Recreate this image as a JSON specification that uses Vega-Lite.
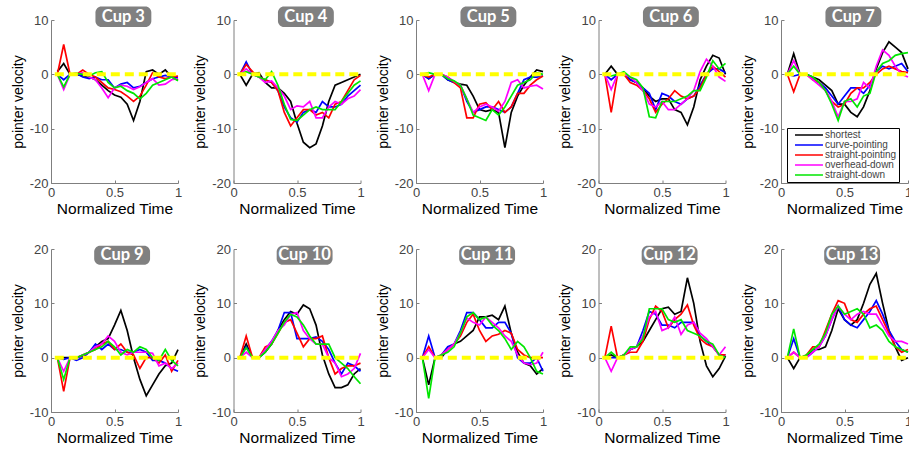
{
"$schema": "https://vega.github.io/schema/vega-lite/v6.json",
"padding": {"left": 11, "top": 6, "right": 0, "bottom": 0},
"background": "white",
"datasets": {"d": [
{"cup":"Cup 3","t":0.05,"shortest":0.5,"curve-pointing":0,"straight-pointing":0,"overhead-down":0,"straight-down":0},
{"cup":"Cup 3","t":0.1,"shortest":2,"curve-pointing":-1,"straight-pointing":5.5,"overhead-down":-2.8,"straight-down":-2.3},
{"cup":"Cup 3","t":0.15,"shortest":0,"curve-pointing":0,"straight-pointing":0,"overhead-down":0,"straight-down":0},
{"cup":"Cup 3","t":0.2,"shortest":0,"curve-pointing":0.2,"straight-pointing":0,"overhead-down":0,"straight-down":0.2},
{"cup":"Cup 3","t":0.25,"shortest":-0.3,"curve-pointing":-0.5,"straight-pointing":0.8,"overhead-down":0.3,"straight-down":0},
{"cup":"Cup 3","t":0.3,"shortest":-0.5,"curve-pointing":-0.8,"straight-pointing":0,"overhead-down":-0.5,"straight-down":-0.3},
{"cup":"Cup 3","t":0.35,"shortest":-1,"curve-pointing":-0.5,"straight-pointing":-0.5,"overhead-down":-1,"straight-down":0.3},
{"cup":"Cup 3","t":0.4,"shortest":-2,"curve-pointing":-1,"straight-pointing":-1.5,"overhead-down":-2.5,"straight-down":0.5},
{"cup":"Cup 3","t":0.45,"shortest":-3,"curve-pointing":-1,"straight-pointing":-2.5,"overhead-down":-4.3,"straight-down":-1.5},
{"cup":"Cup 3","t":0.5,"shortest":-3.8,"curve-pointing":-2.5,"straight-pointing":-2.8,"overhead-down":-2.5,"straight-down":-2.5},
{"cup":"Cup 3","t":0.55,"shortest":-4.2,"curve-pointing":-1.8,"straight-pointing":-3.2,"overhead-down":-2,"straight-down":-2.2},
{"cup":"Cup 3","t":0.6,"shortest":-5.5,"curve-pointing":-1.5,"straight-pointing":-4,"overhead-down":-2.2,"straight-down":-3},
{"cup":"Cup 3","t":0.65,"shortest":-8.5,"curve-pointing":-2.5,"straight-pointing":-5,"overhead-down":-2.8,"straight-down":-3.5},
{"cup":"Cup 3","t":0.7,"shortest":-5,"curve-pointing":-2.2,"straight-pointing":-4,"overhead-down":-2.3,"straight-down":-4.5},
{"cup":"Cup 3","t":0.75,"shortest":0.5,"curve-pointing":-1.5,"straight-pointing":-2,"overhead-down":-1.5,"straight-down":-3.5},
{"cup":"Cup 3","t":0.8,"shortest":0.8,"curve-pointing":-0.8,"straight-pointing":0.3,"overhead-down":-0.8,"straight-down":-2},
{"cup":"Cup 3","t":0.85,"shortest":0,"curve-pointing":-0.5,"straight-pointing":-0.5,"overhead-down":-2,"straight-down":-1.5},
{"cup":"Cup 3","t":0.9,"shortest":0.8,"curve-pointing":-0.2,"straight-pointing":-0.8,"overhead-down":-1.8,"straight-down":-1},
{"cup":"Cup 3","t":0.95,"shortest":-0.5,"curve-pointing":-0.5,"straight-pointing":-0.5,"overhead-down":-1,"straight-down":-0.5},
{"cup":"Cup 3","t":1,"shortest":-1,"curve-pointing":-0.5,"straight-pointing":-0.3,"overhead-down":-0.8,"straight-down":-1.2},
{"cup":"Cup 4","t":0.05,"shortest":0,"curve-pointing":0,"straight-pointing":0,"overhead-down":0,"straight-down":0},
{"cup":"Cup 4","t":0.1,"shortest":-2,"curve-pointing":2.3,"straight-pointing":1.8,"overhead-down":1,"straight-down":0.5},
{"cup":"Cup 4","t":0.15,"shortest":0,"curve-pointing":0,"straight-pointing":0.5,"overhead-down":0,"straight-down":0},
{"cup":"Cup 4","t":0.2,"shortest":0.3,"curve-pointing":-0.5,"straight-pointing":-0.5,"overhead-down":-0.5,"straight-down":-0.5},
{"cup":"Cup 4","t":0.25,"shortest":-1.5,"curve-pointing":-1,"straight-pointing":-1,"overhead-down":-1.5,"straight-down":-1},
{"cup":"Cup 4","t":0.3,"shortest":-2.5,"curve-pointing":-1.5,"straight-pointing":-1.5,"overhead-down":-1.2,"straight-down":0.5},
{"cup":"Cup 4","t":0.35,"shortest":-2.5,"curve-pointing":-3,"straight-pointing":-3,"overhead-down":-2.5,"straight-down":-2},
{"cup":"Cup 4","t":0.4,"shortest":-3.5,"curve-pointing":-6,"straight-pointing":-7,"overhead-down":-4,"straight-down":-5.5},
{"cup":"Cup 4","t":0.45,"shortest":-5,"curve-pointing":-8,"straight-pointing":-9.5,"overhead-down":-6.5,"straight-down":-8.3},
{"cup":"Cup 4","t":0.5,"shortest":-9,"curve-pointing":-8.8,"straight-pointing":-8,"overhead-down":-5.8,"straight-down":-8.5},
{"cup":"Cup 4","t":0.55,"shortest":-12.5,"curve-pointing":-7,"straight-pointing":-6.5,"overhead-down":-6,"straight-down":-7.5},
{"cup":"Cup 4","t":0.6,"shortest":-13.5,"curve-pointing":-6.5,"straight-pointing":-6.5,"overhead-down":-5,"straight-down":-6.5},
{"cup":"Cup 4","t":0.65,"shortest":-12.8,"curve-pointing":-7,"straight-pointing":-7.5,"overhead-down":-8,"straight-down":-6},
{"cup":"Cup 4","t":0.7,"shortest":-9.5,"curve-pointing":-5,"straight-pointing":-7,"overhead-down":-8,"straight-down":-6.5},
{"cup":"Cup 4","t":0.75,"shortest":-5,"curve-pointing":-6,"straight-pointing":-8,"overhead-down":-6,"straight-down":-6.5},
{"cup":"Cup 4","t":0.8,"shortest":-2,"curve-pointing":-6,"straight-pointing":-5.5,"overhead-down":-5,"straight-down":-6.5},
{"cup":"Cup 4","t":0.85,"shortest":-1.5,"curve-pointing":-5.5,"straight-pointing":-5,"overhead-down":-5.5,"straight-down":-5},
{"cup":"Cup 4","t":0.9,"shortest":-1,"curve-pointing":-4,"straight-pointing":-3,"overhead-down":-4.5,"straight-down":-3.5},
{"cup":"Cup 4","t":0.95,"shortest":-0.5,"curve-pointing":-3,"straight-pointing":-1,"overhead-down":-4,"straight-down":-2},
{"cup":"Cup 4","t":1,"shortest":0,"curve-pointing":-2,"straight-pointing":-0.2,"overhead-down":-2.8,"straight-down":-1.2},
{"cup":"Cup 5","t":0.05,"shortest":0,"curve-pointing":0,"straight-pointing":0,"overhead-down":0,"straight-down":0},
{"cup":"Cup 5","t":0.1,"shortest":-0.8,"curve-pointing":-0.8,"straight-pointing":-0.5,"overhead-down":-3,"straight-down":0.3},
{"cup":"Cup 5","t":0.15,"shortest":0,"curve-pointing":0,"straight-pointing":0,"overhead-down":0,"straight-down":0},
{"cup":"Cup 5","t":0.2,"shortest":0,"curve-pointing":0,"straight-pointing":0,"overhead-down":0,"straight-down":0},
{"cup":"Cup 5","t":0.25,"shortest":-1,"curve-pointing":-1,"straight-pointing":-0.5,"overhead-down":-0.5,"straight-down":-0.8},
{"cup":"Cup 5","t":0.3,"shortest":-1.5,"curve-pointing":-1.5,"straight-pointing":-1.5,"overhead-down":-1.3,"straight-down":-1.2},
{"cup":"Cup 5","t":0.35,"shortest":-1.8,"curve-pointing":-2,"straight-pointing":-2.5,"overhead-down":-2,"straight-down":-2},
{"cup":"Cup 5","t":0.4,"shortest":-2,"curve-pointing":-5,"straight-pointing":-8,"overhead-down":-4.5,"straight-down":-4.5},
{"cup":"Cup 5","t":0.45,"shortest":-4,"curve-pointing":-7,"straight-pointing":-8,"overhead-down":-7,"straight-down":-7.5},
{"cup":"Cup 5","t":0.5,"shortest":-6.5,"curve-pointing":-6.5,"straight-pointing":-5.5,"overhead-down":-6,"straight-down":-8},
{"cup":"Cup 5","t":0.55,"shortest":-6.8,"curve-pointing":-6,"straight-pointing":-5.2,"overhead-down":-5.5,"straight-down":-8.5},
{"cup":"Cup 5","t":0.6,"shortest":-6.5,"curve-pointing":-6,"straight-pointing":-6.5,"overhead-down":-6,"straight-down":-6.5},
{"cup":"Cup 5","t":0.65,"shortest":-7,"curve-pointing":-6.5,"straight-pointing":-5,"overhead-down":-6.8,"straight-down":-7.5},
{"cup":"Cup 5","t":0.7,"shortest":-13.5,"curve-pointing":-7,"straight-pointing":-7,"overhead-down":-5,"straight-down":-6},
{"cup":"Cup 5","t":0.75,"shortest":-7,"curve-pointing":-6,"straight-pointing":-6,"overhead-down":-1.5,"straight-down":-4},
{"cup":"Cup 5","t":0.8,"shortest":-4,"curve-pointing":-3.5,"straight-pointing":-3.5,"overhead-down":-1,"straight-down":-2},
{"cup":"Cup 5","t":0.85,"shortest":-2,"curve-pointing":-1,"straight-pointing":-3.5,"overhead-down":-2.5,"straight-down":-1.5},
{"cup":"Cup 5","t":0.9,"shortest":-0.5,"curve-pointing":-0.5,"straight-pointing":-2,"overhead-down":-2.2,"straight-down":-1},
{"cup":"Cup 5","t":0.95,"shortest":0.8,"curve-pointing":-0.5,"straight-pointing":-1,"overhead-down":-2,"straight-down":0.3},
{"cup":"Cup 5","t":1,"shortest":0.5,"curve-pointing":-0.3,"straight-pointing":-0.3,"overhead-down":-2.7,"straight-down":0},
{"cup":"Cup 6","t":0.05,"shortest":0,"curve-pointing":0,"straight-pointing":0,"overhead-down":0,"straight-down":0},
{"cup":"Cup 6","t":0.1,"shortest":1.5,"curve-pointing":-1,"straight-pointing":-7,"overhead-down":-2.8,"straight-down":-0.3},
{"cup":"Cup 6","t":0.15,"shortest":0,"curve-pointing":0,"straight-pointing":0,"overhead-down":0,"straight-down":0},
{"cup":"Cup 6","t":0.2,"shortest":0,"curve-pointing":0,"straight-pointing":0,"overhead-down":0,"straight-down":0.5},
{"cup":"Cup 6","t":0.25,"shortest":-1,"curve-pointing":-1,"straight-pointing":-1.5,"overhead-down":-0.5,"straight-down":-0.5},
{"cup":"Cup 6","t":0.3,"shortest":-1.5,"curve-pointing":-1.5,"straight-pointing":-2,"overhead-down":-1.5,"straight-down":-1},
{"cup":"Cup 6","t":0.35,"shortest":-2.5,"curve-pointing":-2.5,"straight-pointing":-3,"overhead-down":-3,"straight-down":-2.5},
{"cup":"Cup 6","t":0.4,"shortest":-4,"curve-pointing":-3.5,"straight-pointing":-4.5,"overhead-down":-5.5,"straight-down":-7.8},
{"cup":"Cup 6","t":0.45,"shortest":-5,"curve-pointing":-6.5,"straight-pointing":-7,"overhead-down":-6,"straight-down":-8},
{"cup":"Cup 6","t":0.5,"shortest":-4.5,"curve-pointing":-3.5,"straight-pointing":-5.5,"overhead-down":-5,"straight-down":-5},
{"cup":"Cup 6","t":0.55,"shortest":-4.5,"curve-pointing":-4,"straight-pointing":-4.5,"overhead-down":-6.5,"straight-down":-5},
{"cup":"Cup 6","t":0.6,"shortest":-6.5,"curve-pointing":-5,"straight-pointing":-3,"overhead-down":-6.5,"straight-down":-5},
{"cup":"Cup 6","t":0.65,"shortest":-7,"curve-pointing":-5.5,"straight-pointing":-4,"overhead-down":-5.5,"straight-down":-4.5},
{"cup":"Cup 6","t":0.7,"shortest":-9.3,"curve-pointing":-4.5,"straight-pointing":-4.5,"overhead-down":-4.5,"straight-down":-4},
{"cup":"Cup 6","t":0.75,"shortest":-6,"curve-pointing":-4,"straight-pointing":-4,"overhead-down":-3,"straight-down":-3},
{"cup":"Cup 6","t":0.8,"shortest":-1,"curve-pointing":-2,"straight-pointing":-2.5,"overhead-down":0.5,"straight-down":-3},
{"cup":"Cup 6","t":0.85,"shortest":1.5,"curve-pointing":0,"straight-pointing":0,"overhead-down":2.8,"straight-down":-0.5},
{"cup":"Cup 6","t":0.9,"shortest":3.5,"curve-pointing":1,"straight-pointing":1.5,"overhead-down":1.5,"straight-down":2.5},
{"cup":"Cup 6","t":0.95,"shortest":3,"curve-pointing":1,"straight-pointing":0.5,"overhead-down":-0.5,"straight-down":1},
{"cup":"Cup 6","t":1,"shortest":0,"curve-pointing":0.3,"straight-pointing":-0.5,"overhead-down":-1.3,"straight-down":2},
{"cup":"Cup 7","t":0.05,"shortest":0,"curve-pointing":0,"straight-pointing":0,"overhead-down":0,"straight-down":0},
{"cup":"Cup 7","t":0.1,"shortest":3.8,"curve-pointing":-0.3,"straight-pointing":-3.2,"overhead-down":2.5,"straight-down":1.5},
{"cup":"Cup 7","t":0.15,"shortest":0,"curve-pointing":0,"straight-pointing":0,"overhead-down":0,"straight-down":0},
{"cup":"Cup 7","t":0.2,"shortest":0,"curve-pointing":0,"straight-pointing":0,"overhead-down":0,"straight-down":0},
{"cup":"Cup 7","t":0.25,"shortest":-0.5,"curve-pointing":-0.8,"straight-pointing":-1,"overhead-down":-1,"straight-down":-0.5},
{"cup":"Cup 7","t":0.3,"shortest":-1,"curve-pointing":-1.5,"straight-pointing":-1.5,"overhead-down":-2,"straight-down":-1.5},
{"cup":"Cup 7","t":0.35,"shortest":-2,"curve-pointing":-2.5,"straight-pointing":-3,"overhead-down":-3,"straight-down":-3},
{"cup":"Cup 7","t":0.4,"shortest":-3,"curve-pointing":-4,"straight-pointing":-5,"overhead-down":-5,"straight-down":-5.5},
{"cup":"Cup 7","t":0.45,"shortest":-5.5,"curve-pointing":-5.5,"straight-pointing":-6,"overhead-down":-7.8,"straight-down":-8.5},
{"cup":"Cup 7","t":0.5,"shortest":-5.5,"curve-pointing":-4,"straight-pointing":-5.5,"overhead-down":-5,"straight-down":-5},
{"cup":"Cup 7","t":0.55,"shortest":-7,"curve-pointing":-2.5,"straight-pointing":-3.5,"overhead-down":-5,"straight-down":-4.5},
{"cup":"Cup 7","t":0.6,"shortest":-7.8,"curve-pointing":-2.5,"straight-pointing":-2.5,"overhead-down":-4.5,"straight-down":-6},
{"cup":"Cup 7","t":0.65,"shortest":-6,"curve-pointing":-3.5,"straight-pointing":-2.5,"overhead-down":-1.5,"straight-down":-4},
{"cup":"Cup 7","t":0.7,"shortest":-3,"curve-pointing":-2,"straight-pointing":-1.5,"overhead-down":-2.5,"straight-down":-3.5},
{"cup":"Cup 7","t":0.75,"shortest":1,"curve-pointing":0.5,"straight-pointing":0,"overhead-down":1.5,"straight-down":0.5},
{"cup":"Cup 7","t":0.8,"shortest":4,"curve-pointing":1.5,"straight-pointing":1,"overhead-down":4.5,"straight-down":2},
{"cup":"Cup 7","t":0.85,"shortest":6,"curve-pointing":1,"straight-pointing":1.5,"overhead-down":3.5,"straight-down":2.5},
{"cup":"Cup 7","t":0.9,"shortest":5,"curve-pointing":1.5,"straight-pointing":1,"overhead-down":1.5,"straight-down":3.5},
{"cup":"Cup 7","t":0.95,"shortest":4,"curve-pointing":2,"straight-pointing":0.5,"overhead-down":0,"straight-down":3.8},
{"cup":"Cup 7","t":1,"shortest":1,"curve-pointing":0.5,"straight-pointing":0.3,"overhead-down":-0.5,"straight-down":4},
{"cup":"Cup 9","t":0.05,"shortest":0,"curve-pointing":0,"straight-pointing":0,"overhead-down":0,"straight-down":0},
{"cup":"Cup 9","t":0.1,"shortest":0,"curve-pointing":-0.3,"straight-pointing":-6.2,"overhead-down":-2.5,"straight-down":-4},
{"cup":"Cup 9","t":0.15,"shortest":0,"curve-pointing":0,"straight-pointing":0,"overhead-down":0,"straight-down":0},
{"cup":"Cup 9","t":0.2,"shortest":0,"curve-pointing":-0.5,"straight-pointing":0,"overhead-down":0,"straight-down":0},
{"cup":"Cup 9","t":0.25,"shortest":0.3,"curve-pointing":0,"straight-pointing":0.5,"overhead-down":0.5,"straight-down":0.5},
{"cup":"Cup 9","t":0.3,"shortest":1,"curve-pointing":1,"straight-pointing":1,"overhead-down":1,"straight-down":1},
{"cup":"Cup 9","t":0.35,"shortest":2,"curve-pointing":2.5,"straight-pointing":1.5,"overhead-down":2,"straight-down":1.5},
{"cup":"Cup 9","t":0.4,"shortest":3,"curve-pointing":1.5,"straight-pointing":2.5,"overhead-down":2.5,"straight-down":2},
{"cup":"Cup 9","t":0.45,"shortest":3.5,"curve-pointing":2.5,"straight-pointing":3,"overhead-down":4,"straight-down":3},
{"cup":"Cup 9","t":0.5,"shortest":6,"curve-pointing":1.5,"straight-pointing":1.5,"overhead-down":3,"straight-down":2},
{"cup":"Cup 9","t":0.55,"shortest":8.7,"curve-pointing":1.5,"straight-pointing":2.5,"overhead-down":1,"straight-down":0.5},
{"cup":"Cup 9","t":0.6,"shortest":5,"curve-pointing":1,"straight-pointing":1,"overhead-down":0.5,"straight-down":1.5},
{"cup":"Cup 9","t":0.65,"shortest":0,"curve-pointing":1,"straight-pointing":0.5,"overhead-down":1,"straight-down":1},
{"cup":"Cup 9","t":0.7,"shortest":-4,"curve-pointing":1.5,"straight-pointing":-2,"overhead-down":1,"straight-down":2},
{"cup":"Cup 9","t":0.75,"shortest":-7,"curve-pointing":1,"straight-pointing":0,"overhead-down":1,"straight-down":1.5},
{"cup":"Cup 9","t":0.8,"shortest":-5,"curve-pointing":-0.5,"straight-pointing":0,"overhead-down":0.8,"straight-down":0},
{"cup":"Cup 9","t":0.85,"shortest":-3,"curve-pointing":-0.5,"straight-pointing":-1,"overhead-down":-1.5,"straight-down":-0.5},
{"cup":"Cup 9","t":0.9,"shortest":-1.5,"curve-pointing":-1,"straight-pointing":0.5,"overhead-down":-1,"straight-down":1.5},
{"cup":"Cup 9","t":0.95,"shortest":-1,"curve-pointing":-2,"straight-pointing":-2.5,"overhead-down":-2,"straight-down":-0.5},
{"cup":"Cup 9","t":1,"shortest":1.5,"curve-pointing":-2.5,"straight-pointing":-0.5,"overhead-down":-1,"straight-down":-1.5},
{"cup":"Cup 10","t":0.05,"shortest":0,"curve-pointing":0,"straight-pointing":0,"overhead-down":0,"straight-down":0},
{"cup":"Cup 10","t":0.1,"shortest":2.5,"curve-pointing":2,"straight-pointing":4,"overhead-down":1,"straight-down":1.8},
{"cup":"Cup 10","t":0.15,"shortest":0,"curve-pointing":0,"straight-pointing":0,"overhead-down":0,"straight-down":0},
{"cup":"Cup 10","t":0.2,"shortest":0,"curve-pointing":0,"straight-pointing":0,"overhead-down":0,"straight-down":0},
{"cup":"Cup 10","t":0.25,"shortest":1,"curve-pointing":1.5,"straight-pointing":2,"overhead-down":1.5,"straight-down":1},
{"cup":"Cup 10","t":0.3,"shortest":2.5,"curve-pointing":3,"straight-pointing":2.5,"overhead-down":3,"straight-down":2.5},
{"cup":"Cup 10","t":0.35,"shortest":5,"curve-pointing":5,"straight-pointing":4.5,"overhead-down":5,"straight-down":4.5},
{"cup":"Cup 10","t":0.4,"shortest":7,"curve-pointing":8.3,"straight-pointing":6.5,"overhead-down":6,"straight-down":6.5},
{"cup":"Cup 10","t":0.45,"shortest":8.5,"curve-pointing":8.3,"straight-pointing":7,"overhead-down":8,"straight-down":8},
{"cup":"Cup 10","t":0.5,"shortest":8,"curve-pointing":3.5,"straight-pointing":4.5,"overhead-down":8.3,"straight-down":7.5},
{"cup":"Cup 10","t":0.55,"shortest":9.7,"curve-pointing":3.5,"straight-pointing":2,"overhead-down":5,"straight-down":6},
{"cup":"Cup 10","t":0.6,"shortest":9,"curve-pointing":3.5,"straight-pointing":3.5,"overhead-down":3.5,"straight-down":4},
{"cup":"Cup 10","t":0.65,"shortest":6,"curve-pointing":3.8,"straight-pointing":3.5,"overhead-down":2.5,"straight-down":2.5},
{"cup":"Cup 10","t":0.7,"shortest":0.5,"curve-pointing":3,"straight-pointing":4,"overhead-down":2.5,"straight-down":2.5},
{"cup":"Cup 10","t":0.75,"shortest":-3,"curve-pointing":1.5,"straight-pointing":0,"overhead-down":0,"straight-down":2.5},
{"cup":"Cup 10","t":0.8,"shortest":-5.5,"curve-pointing":-1,"straight-pointing":-3,"overhead-down":-1,"straight-down":0},
{"cup":"Cup 10","t":0.85,"shortest":-5.5,"curve-pointing":-3,"straight-pointing":-2,"overhead-down":-3.5,"straight-down":-1},
{"cup":"Cup 10","t":0.9,"shortest":-5,"curve-pointing":-1,"straight-pointing":-1.5,"overhead-down":-3,"straight-down":-2},
{"cup":"Cup 10","t":0.95,"shortest":-3,"curve-pointing":-1.5,"straight-pointing":-1.5,"overhead-down":-2,"straight-down":-3.5},
{"cup":"Cup 10","t":1,"shortest":-2,"curve-pointing":-2.5,"straight-pointing":-1,"overhead-down":0.8,"straight-down":-4.8},
{"cup":"Cup 11","t":0.05,"shortest":0,"curve-pointing":0,"straight-pointing":0,"overhead-down":0,"straight-down":0},
{"cup":"Cup 11","t":0.1,"shortest":-5,"curve-pointing":4,"straight-pointing":2,"overhead-down":1.5,"straight-down":-7.5},
{"cup":"Cup 11","t":0.15,"shortest":0,"curve-pointing":0,"straight-pointing":0,"overhead-down":0,"straight-down":0},
{"cup":"Cup 11","t":0.2,"shortest":0,"curve-pointing":0.5,"straight-pointing":0.5,"overhead-down":0.5,"straight-down":0.5},
{"cup":"Cup 11","t":0.25,"shortest":1.5,"curve-pointing":2,"straight-pointing":1.5,"overhead-down":1.5,"straight-down":1},
{"cup":"Cup 11","t":0.3,"shortest":2.5,"curve-pointing":2.5,"straight-pointing":2.5,"overhead-down":2.5,"straight-down":2},
{"cup":"Cup 11","t":0.35,"shortest":3,"curve-pointing":5,"straight-pointing":4,"overhead-down":4.5,"straight-down":4.5},
{"cup":"Cup 11","t":0.4,"shortest":4,"curve-pointing":8.3,"straight-pointing":6.5,"overhead-down":7.3,"straight-down":7.5},
{"cup":"Cup 11","t":0.45,"shortest":5,"curve-pointing":8.3,"straight-pointing":8,"overhead-down":6.5,"straight-down":8.3},
{"cup":"Cup 11","t":0.5,"shortest":7.5,"curve-pointing":7,"straight-pointing":5,"overhead-down":6,"straight-down":7},
{"cup":"Cup 11","t":0.55,"shortest":7.5,"curve-pointing":5.5,"straight-pointing":3,"overhead-down":7.5,"straight-down":7.5},
{"cup":"Cup 11","t":0.6,"shortest":7.8,"curve-pointing":5.5,"straight-pointing":4,"overhead-down":6.5,"straight-down":6},
{"cup":"Cup 11","t":0.65,"shortest":7,"curve-pointing":6.5,"straight-pointing":4.3,"overhead-down":5.5,"straight-down":5},
{"cup":"Cup 11","t":0.7,"shortest":9.5,"curve-pointing":6.5,"straight-pointing":5,"overhead-down":4,"straight-down":3.5},
{"cup":"Cup 11","t":0.75,"shortest":4.5,"curve-pointing":4.5,"straight-pointing":4.5,"overhead-down":3,"straight-down":1.5},
{"cup":"Cup 11","t":0.8,"shortest":1,"curve-pointing":0,"straight-pointing":1.5,"overhead-down":0.5,"straight-down":3},
{"cup":"Cup 11","t":0.85,"shortest":-1,"curve-pointing":-1,"straight-pointing":0.5,"overhead-down":-1,"straight-down":2},
{"cup":"Cup 11","t":0.9,"shortest":-1.5,"curve-pointing":-1,"straight-pointing":0,"overhead-down":-1.3,"straight-down":0},
{"cup":"Cup 11","t":0.95,"shortest":-3,"curve-pointing":0,"straight-pointing":0,"overhead-down":-1,"straight-down":-2.5},
{"cup":"Cup 11","t":1,"shortest":-2,"curve-pointing":-2.5,"straight-pointing":0,"overhead-down":1,"straight-down":-3},
{"cup":"Cup 12","t":0.05,"shortest":0,"curve-pointing":0,"straight-pointing":0,"overhead-down":0,"straight-down":0},
{"cup":"Cup 12","t":0.1,"shortest":0.5,"curve-pointing":0,"straight-pointing":5.8,"overhead-down":-2.5,"straight-down":1},
{"cup":"Cup 12","t":0.15,"shortest":0,"curve-pointing":0,"straight-pointing":0,"overhead-down":0,"straight-down":0},
{"cup":"Cup 12","t":0.2,"shortest":0.5,"curve-pointing":0.5,"straight-pointing":0.5,"overhead-down":0.5,"straight-down":0.5},
{"cup":"Cup 12","t":0.25,"shortest":1.5,"curve-pointing":1.5,"straight-pointing":1,"overhead-down":1.5,"straight-down":2},
{"cup":"Cup 12","t":0.3,"shortest":2,"curve-pointing":2,"straight-pointing":1,"overhead-down":2,"straight-down":2},
{"cup":"Cup 12","t":0.35,"shortest":3,"curve-pointing":5,"straight-pointing":3,"overhead-down":4,"straight-down":3.5},
{"cup":"Cup 12","t":0.4,"shortest":5,"curve-pointing":8.5,"straight-pointing":7,"overhead-down":7.5,"straight-down":9},
{"cup":"Cup 12","t":0.45,"shortest":7,"curve-pointing":8,"straight-pointing":9.5,"overhead-down":8.5,"straight-down":9},
{"cup":"Cup 12","t":0.5,"shortest":9,"curve-pointing":6,"straight-pointing":8.5,"overhead-down":5,"straight-down":9},
{"cup":"Cup 12","t":0.55,"shortest":9.3,"curve-pointing":6,"straight-pointing":5.5,"overhead-down":5.5,"straight-down":7},
{"cup":"Cup 12","t":0.6,"shortest":8,"curve-pointing":5.5,"straight-pointing":7,"overhead-down":7.5,"straight-down":6.5},
{"cup":"Cup 12","t":0.65,"shortest":8.5,"curve-pointing":6.5,"straight-pointing":8,"overhead-down":4.3,"straight-down":7},
{"cup":"Cup 12","t":0.7,"shortest":14.7,"curve-pointing":6.5,"straight-pointing":9.7,"overhead-down":6,"straight-down":5},
{"cup":"Cup 12","t":0.75,"shortest":10,"curve-pointing":6.5,"straight-pointing":6,"overhead-down":6.5,"straight-down":4.5},
{"cup":"Cup 12","t":0.8,"shortest":3,"curve-pointing":4,"straight-pointing":3.5,"overhead-down":4.5,"straight-down":4},
{"cup":"Cup 12","t":0.85,"shortest":-1.5,"curve-pointing":3,"straight-pointing":2.5,"overhead-down":3.5,"straight-down":3},
{"cup":"Cup 12","t":0.9,"shortest":-3.5,"curve-pointing":2,"straight-pointing":2,"overhead-down":2,"straight-down":2.5},
{"cup":"Cup 12","t":0.95,"shortest":-2,"curve-pointing":0.5,"straight-pointing":0.5,"overhead-down":0.5,"straight-down":0.5},
{"cup":"Cup 12","t":1,"shortest":0.3,"curve-pointing":0.5,"straight-pointing":0.5,"overhead-down":2,"straight-down":0},
{"cup":"Cup 13","t":0.05,"shortest":0,"curve-pointing":0,"straight-pointing":0,"overhead-down":0,"straight-down":0},
{"cup":"Cup 13","t":0.1,"shortest":-2,"curve-pointing":3.5,"straight-pointing":1,"overhead-down":1,"straight-down":5.3},
{"cup":"Cup 13","t":0.15,"shortest":0,"curve-pointing":0,"straight-pointing":0,"overhead-down":0,"straight-down":0},
{"cup":"Cup 13","t":0.2,"shortest":0,"curve-pointing":0,"straight-pointing":0.5,"overhead-down":0,"straight-down":0.5},
{"cup":"Cup 13","t":0.25,"shortest":1.5,"curve-pointing":1,"straight-pointing":2,"overhead-down":1,"straight-down":1.5},
{"cup":"Cup 13","t":0.3,"shortest":1.5,"curve-pointing":2,"straight-pointing":2,"overhead-down":2,"straight-down":2.5},
{"cup":"Cup 13","t":0.35,"shortest":2,"curve-pointing":4,"straight-pointing":5,"overhead-down":4,"straight-down":4.5},
{"cup":"Cup 13","t":0.4,"shortest":5,"curve-pointing":7,"straight-pointing":8,"overhead-down":7,"straight-down":8},
{"cup":"Cup 13","t":0.45,"shortest":9,"curve-pointing":9.5,"straight-pointing":10.5,"overhead-down":9.5,"straight-down":9.5},
{"cup":"Cup 13","t":0.5,"shortest":7,"curve-pointing":7,"straight-pointing":10,"overhead-down":8,"straight-down":8},
{"cup":"Cup 13","t":0.55,"shortest":6,"curve-pointing":6,"straight-pointing":7,"overhead-down":7,"straight-down":8.5},
{"cup":"Cup 13","t":0.6,"shortest":7,"curve-pointing":5.5,"straight-pointing":6.5,"overhead-down":8,"straight-down":9},
{"cup":"Cup 13","t":0.65,"shortest":10,"curve-pointing":7,"straight-pointing":8,"overhead-down":8.5,"straight-down":8},
{"cup":"Cup 13","t":0.7,"shortest":13.5,"curve-pointing":8.5,"straight-pointing":9,"overhead-down":8,"straight-down":5.5},
{"cup":"Cup 13","t":0.75,"shortest":15.5,"curve-pointing":10.5,"straight-pointing":9.5,"overhead-down":8,"straight-down":6},
{"cup":"Cup 13","t":0.8,"shortest":10,"curve-pointing":8,"straight-pointing":7,"overhead-down":6,"straight-down":5},
{"cup":"Cup 13","t":0.85,"shortest":5,"curve-pointing":5,"straight-pointing":4.5,"overhead-down":4,"straight-down":3},
{"cup":"Cup 13","t":0.9,"shortest":2,"curve-pointing":3,"straight-pointing":2,"overhead-down":3,"straight-down":2},
{"cup":"Cup 13","t":0.95,"shortest":-0.5,"curve-pointing":1.5,"straight-pointing":1,"overhead-down":3,"straight-down":1.5},
{"cup":"Cup 13","t":1,"shortest":0,"curve-pointing":1,"straight-pointing":1.5,"overhead-down":2.5,"straight-down":1}
]},
"config": {
  "font": "Liberation Sans",
  "view": {"stroke": null},
  "axis": {"grid": false, "domainColor": "#7f7f7f", "tickColor": "#7f7f7f", "tickSize": -3, "labelColor": "#444444", "labelFontSize": 13, "labelFont": "Liberation Sans", "titleFont": "Liberation Sans", "titleFontSize": 15.5, "titleFontWeight": "normal", "titleColor": "#000000", "labelFlush": false, "labelPadding": 6, "titlePadding": 2, "labelExpr": "'' + datum.value"},
  "axisY": {"titleFontSize": 14, "titlePadding": 4}
},
"spacing": 26,
"resolve": {"scale": {"color": "shared"}},
"vconcat": [
{
  "data": {"name": "d"},
  "transform": [
    {"filter": {"field": "cup", "oneOf": ["Cup 3","Cup 4","Cup 5","Cup 6","Cup 7"]}},
    {"fold": ["shortest","curve-pointing","straight-pointing","overhead-down","straight-down"], "as": ["series","v"]}
  ],
  "facet": {"column": {"field": "cup", "sort": ["Cup 3","Cup 4","Cup 5","Cup 6","Cup 7"], "header": null, "title": null}},
  "spacing": 55.5,
  "bounds": "flush",
  "resolve": {"axis": {"x": "independent", "y": "independent"}},
  "spec": {
    "width": 127, "height": 163,
    "layer": [
      {"mark": {"type": "line", "strokeWidth": 1.7},
       "encoding": {
         "x": {"field": "t", "type": "quantitative", "scale": {"domain": [0,1]}, "axis": {"title": "Normalized Time", "values": [0,0.5,1]}},
         "y": {"field": "v", "type": "quantitative", "scale": {"domain": [-20,10]}, "axis": {"title": "pointer velocity", "values": [-20,-15,-10,-5,0,5,10]}},
         "color": {"field": "series", "type": "nominal",
           "scale": {"domain": ["shortest","curve-pointing","straight-pointing","overhead-down","straight-down"], "range": ["#000000","#0000ff","#ff0000","#ff00ff","#00e600"]},
           "legend": {"title": null, "orient": "none", "legendX": 736, "legendY": 108, "symbolType": "M0.45,0H12.95", "symbolSize": 20, "symbolStrokeWidth": 1.5, "labelFontSize": 10, "labelColor": "#444444", "strokeColor": "#000000", "fillColor": "#ffffff", "padding": 2, "rowPadding": 0, "labelOffset": 26}}
       }},
      {"transform": [{"aggregate": [{"op": "count", "as": "n"}], "groupby": ["cup"]}],
       "mark": {"type": "rule", "color": "#ffff00", "strokeWidth": 4, "strokeDash": [9,5]},
       "encoding": {"x": {"datum": 0.03}, "x2": {"datum": 1}, "y": {"datum": 0}}},
      {"transform": [{"aggregate": [{"op": "count", "as": "n"}], "groupby": ["cup"]}],
       "mark": {"type": "rect", "fill": "#808080", "cornerRadius": 6, "clip": false},
       "encoding": {"x": {"datum": 0.35}, "x2": {"datum": 0.79}, "y": {"datum": 12.5}, "y2": {"datum": 8.7}}},
      {"transform": [{"aggregate": [{"op": "count", "as": "n"}], "groupby": ["cup"]}],
       "mark": {"type": "text", "color": "#ffffff", "font": "Lato", "fontWeight": "bold", "fontSize": 16.5, "baseline": "middle", "align": "center"},
       "encoding": {"x": {"datum": 0.57}, "y": {"datum": 10.6}, "text": {"field": "cup"}}}
    ]
  }
},
{
  "data": {"name": "d"},
  "transform": [
    {"filter": {"field": "cup", "oneOf": ["Cup 9","Cup 10","Cup 11","Cup 12","Cup 13"]}},
    {"fold": ["shortest","curve-pointing","straight-pointing","overhead-down","straight-down"], "as": ["series","v"]}
  ],
  "facet": {"column": {"field": "cup", "sort": ["Cup 9","Cup 10","Cup 11","Cup 12","Cup 13"], "header": null, "title": null}},
  "spacing": 55.5,
  "bounds": "flush",
  "resolve": {"axis": {"x": "independent", "y": "independent"}},
  "spec": {
    "width": 127, "height": 163,
    "layer": [
      {"mark": {"type": "line", "strokeWidth": 1.7},
       "encoding": {
         "x": {"field": "t", "type": "quantitative", "scale": {"domain": [0,1]}, "axis": {"title": "Normalized Time", "values": [0,0.5,1]}},
         "y": {"field": "v", "type": "quantitative", "scale": {"domain": [-10,20]}, "axis": {"title": "pointer velocity", "values": [-10,-5,0,5,10,15,20]}},
         "color": {"field": "series", "type": "nominal"}
       }},
      {"transform": [{"aggregate": [{"op": "count", "as": "n"}], "groupby": ["cup"]}],
       "mark": {"type": "rule", "color": "#ffff00", "strokeWidth": 4, "strokeDash": [9,5]},
       "encoding": {"x": {"datum": 0.03}, "x2": {"datum": 1}, "y": {"datum": 0}}},
      {"transform": [{"aggregate": [{"op": "count", "as": "n"}], "groupby": ["cup"]}],
       "mark": {"type": "rect", "fill": "#808080", "cornerRadius": 6, "clip": false},
       "encoding": {"x": {"datum": 0.34}, "x2": {"datum": 0.78}, "y": {"datum": 20.6}, "y2": {"datum": 17.1}}},
      {"transform": [{"aggregate": [{"op": "count", "as": "n"}], "groupby": ["cup"]}],
       "mark": {"type": "text", "color": "#ffffff", "font": "Lato", "fontWeight": "bold", "fontSize": 16.5, "baseline": "middle", "align": "center"},
       "encoding": {"x": {"datum": 0.56}, "y": {"datum": 18.85}, "text": {"field": "cup"}}}
    ]
  }
}
]
}
